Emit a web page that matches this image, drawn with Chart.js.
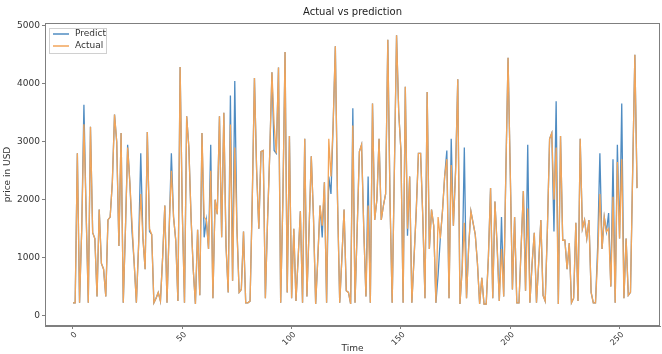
<!DOCTYPE html>
<html>
<head>
<meta charset="utf-8">
<script src="https://cdn.jsdelivr.net/npm/chart.js@4.4.1/dist/chart.umd.min.js"></script>
<style>
    html, body { margin: 0; padding: 0; background: #fff; }
</style>
</head>
<body>
<canvas id="actual-vs-prediction-chart" width="662" height="354"></canvas>
<script>
const xTicks = [0, 50, 100, 150, 200, 250];
const yTicks = [0, 1000, 2000, 3000, 4000, 5000];

const predict = [
    220, 220, 2800, 220, 1500, 3640, 1800, 220, 3260, 1430, 1330, 330, 1830, 900, 800, 330, 1650, 1700, 2300, 3470,
    3000, 1200, 3150, 220, 1500, 2950, 2300, 1450, 900, 220, 1200, 2800, 1330, 800, 3170, 1450, 1400, 220, 300, 400,
    250, 1000, 1900, 220, 1500, 2800, 1700, 1300, 250, 4290, 1800, 220, 3440, 2900, 1700, 800, 200, 1480, 350, 3150,
    1350, 1650, 1150, 2950, 300, 2000, 1750, 3440, 1350, 3500, 1200, 400, 3800, 600, 4050, 1500, 400, 450, 1450, 220,
    220, 250, 2000, 4100, 2500, 1500, 2830, 2850, 300, 1650, 2800, 4200, 2850, 2800, 4280, 220, 2000, 4550, 400, 3100,
    300, 1500, 250, 1000, 1800, 220, 3050, 330, 1500, 2750, 1700, 200, 1000, 1900, 1350, 2300, 220, 2400, 2100, 3300,
    4650, 2000, 220, 1000, 1830, 430, 400, 200, 3580, 220, 1500, 2830, 2950, 1500, 330, 2400, 220, 3660, 1650, 2000,
    3050, 1650, 1900, 2100, 4760, 2000, 220, 2500, 4840, 3500, 2850, 220, 3950, 1380, 2400, 220, 1000, 1800, 2800, 2800,
    1700, 300, 3860, 1150, 1830, 1550, 220, 700, 1330, 1800, 2400, 2850, 300, 3050, 1550, 2500, 4080, 200, 800, 2900,
    300, 1200, 1800, 1600, 1400, 900, 200, 650, 200, 200, 1000, 2200, 300, 1970, 1200, 250, 1700, 330, 2500, 4450,
    2500, 450, 1700, 220, 220, 1200, 2150, 430, 2950, 220, 900, 1430, 220, 900, 1650, 350, 250, 1500, 3050, 3150,
    1450, 3700, 200, 3100, 1300, 1300, 800, 1250, 220, 300, 1600, 250, 3050, 1500, 1650, 1330, 1650, 400, 220, 220,
    1200, 2800, 1150, 1700, 1450, 1770, 500, 2700, 220, 2950, 1330, 3660, 300, 1330, 350, 400, 2500, 4500, 2200
];

const actual = [
    220, 220, 2800, 220, 1500, 3300, 1800, 220, 3260, 1430, 1330, 330, 1830, 900, 800, 330, 1650, 1700, 2300, 3470,
    3000, 1200, 3150, 220, 1500, 2900, 2300, 1600, 900, 220, 1200, 2100, 1330, 800, 3170, 1500, 1400, 220, 300, 400,
    250, 1000, 1900, 220, 1500, 2500, 1700, 1300, 250, 4290, 1800, 220, 3440, 2900, 1700, 800, 200, 1480, 350, 3150,
    1700, 1650, 1150, 2500, 300, 2000, 1750, 3440, 1350, 3500, 1200, 400, 3300, 600, 2900, 1500, 400, 450, 1450, 220,
    220, 250, 2000, 4100, 2500, 1500, 2830, 2850, 300, 1650, 2800, 4200, 3300, 2800, 4280, 220, 2000, 4550, 400, 3100,
    300, 1500, 250, 1000, 1800, 220, 3050, 330, 1500, 2750, 1700, 200, 1000, 1900, 1550, 2300, 220, 3050, 2400, 3300,
    4650, 2000, 220, 1000, 1830, 430, 400, 200, 3280, 220, 1500, 2830, 2950, 1500, 330, 1900, 220, 3660, 1650, 2000,
    3050, 1650, 1900, 2100, 4760, 2000, 220, 2500, 4840, 3500, 2850, 220, 3950, 1500, 2400, 220, 1000, 1800, 2800, 2800,
    1700, 300, 3860, 1150, 1830, 1550, 220, 1700, 1330, 1800, 2400, 2700, 300, 2600, 1550, 2500, 4080, 200, 800, 1600,
    300, 1200, 1800, 1600, 1400, 900, 200, 650, 200, 200, 1000, 2200, 300, 1970, 1200, 250, 1150, 330, 2500, 4450,
    2500, 450, 1700, 220, 220, 1200, 2150, 430, 1850, 220, 900, 1430, 220, 900, 1650, 350, 250, 1500, 3050, 3150,
    2000, 2900, 200, 3100, 1300, 1300, 800, 1250, 220, 300, 1600, 250, 3050, 1500, 1650, 1330, 1650, 400, 220, 220,
    1000, 2100, 1150, 1700, 1450, 1500, 500, 2050, 220, 2650, 1330, 2700, 300, 1330, 350, 400, 2500, 4500, 2200
];

// time step index of each sample
const timeSteps = actual.map((v, i) => i);

const axisGrey = '#7f7f7f';
const blue = '#4f8cc2';
const orange = '#f2a55a';

Chart.defaults.font.family = 'DejaVu Sans';
Chart.defaults.color = '#333';

// box round the axes plus the legend inside the plot, like matplotlib
const framePlugin = {
    id: 'frame',
    afterDatasetsDraw(chart) {
        const ctx = chart.ctx;
        const a = chart.chartArea;
        ctx.save();
        ctx.strokeStyle = axisGrey;
        ctx.lineWidth = 1;
        ctx.strokeRect(a.left + 0.5, a.top + 0.5, a.right - a.left - 1, a.bottom - a.top - 1);

        const bx = a.left + 4, by = a.top + 5;
        ctx.fillStyle = 'rgba(255,255,255,0.85)';
        ctx.strokeStyle = '#d0d0d0';
        ctx.fillRect(bx, by, 57, 25);
        ctx.strokeRect(bx + 0.5, by + 0.5, 57, 25);
        ctx.font = '9px "DejaVu Sans"';
        ctx.textBaseline = 'middle';
        chart.data.datasets.forEach((ds, i) => {
            const y = by + 6 + i * 12;
            ctx.strokeStyle = ds.borderColor;
            ctx.lineWidth = 1.5;
            ctx.beginPath();
            ctx.moveTo(bx + 4, y);
            ctx.lineTo(bx + 20, y);
            ctx.stroke();
            ctx.fillStyle = '#333';
            ctx.fillText(ds.label, bx + 26, y);
        });
        ctx.restore();
    }
};

const ctx = document.getElementById('actual-vs-prediction-chart').getContext('2d');

const chart = new Chart(ctx, {
    type: 'line',
    data: {
        datasets: [
            {
                label: 'Predict',
                data: timeSteps.map(i => ({ x: i, y: predict[i] })),
                borderColor: blue,
                borderWidth: 1.3,
                pointRadius: 0,
                tension: 0,
                order: 2
            },
            {
                label: 'Actual',
                data: timeSteps.map(i => ({ x: i, y: actual[i] })),
                borderColor: orange,
                borderWidth: 1.3,
                pointRadius: 0,
                tension: 0,
                order: 1
            }
        ]
    },
    options: {
        responsive: false,
        animation: false,
        layout: {
            padding: { left: 0, right: 2, top: 0, bottom: 0 }
        },
        plugins: {
            legend: { display: false },
            tooltip: { enabled: false },
            title: {
                display: true,
                text: 'Actual vs prediction',
                fullSize: false,
                color: '#222',
                font: { size: 10, weight: 'normal' },
                padding: { top: 6, bottom: 5 }
            }
        },
        scales: {
            x: {
                type: 'linear',
                min: -12.8,
                max: 268.5,
                afterBuildTicks: scale => { scale.ticks = xTicks.map(v => ({ value: v })); },
                afterFit: scale => { scale.height = 28; },
                grid: { drawOnChartArea: false, drawTicks: true, tickLength: 3, color: axisGrey },
                border: { display: true, color: axisGrey },
                ticks: {
                    minRotation: 45,
                    maxRotation: 45,
                    padding: 1,
                    labelOffset: 3,
                    font: { size: 8 },
                    color: '#333',
                    callback: v => String(v)
                },
                title: {
                    display: true,
                    text: 'Time',
                    font: { size: 9 },
                    color: '#333',
                    padding: { top: 0, bottom: 0 }
                }
            },
            y: {
                min: -180,
                max: 5050,
                afterBuildTicks: scale => { scale.ticks = yTicks.map(v => ({ value: v })); },
                afterFit: scale => { scale.width = 45; },
                grid: { drawOnChartArea: false, drawTicks: true, tickLength: 3, color: axisGrey },
                border: { display: true, color: axisGrey },
                ticks: {
                    padding: 2,
                    font: { size: 9 },
                    color: '#333',
                    callback: v => String(v)
                },
                title: {
                    display: true,
                    text: 'price in USD',
                    font: { size: 9 },
                    color: '#333',
                    padding: { top: 2, bottom: 0 }
                }
            }
        }
    },
    plugins: [framePlugin]
});
</script>
</body>
</html>
